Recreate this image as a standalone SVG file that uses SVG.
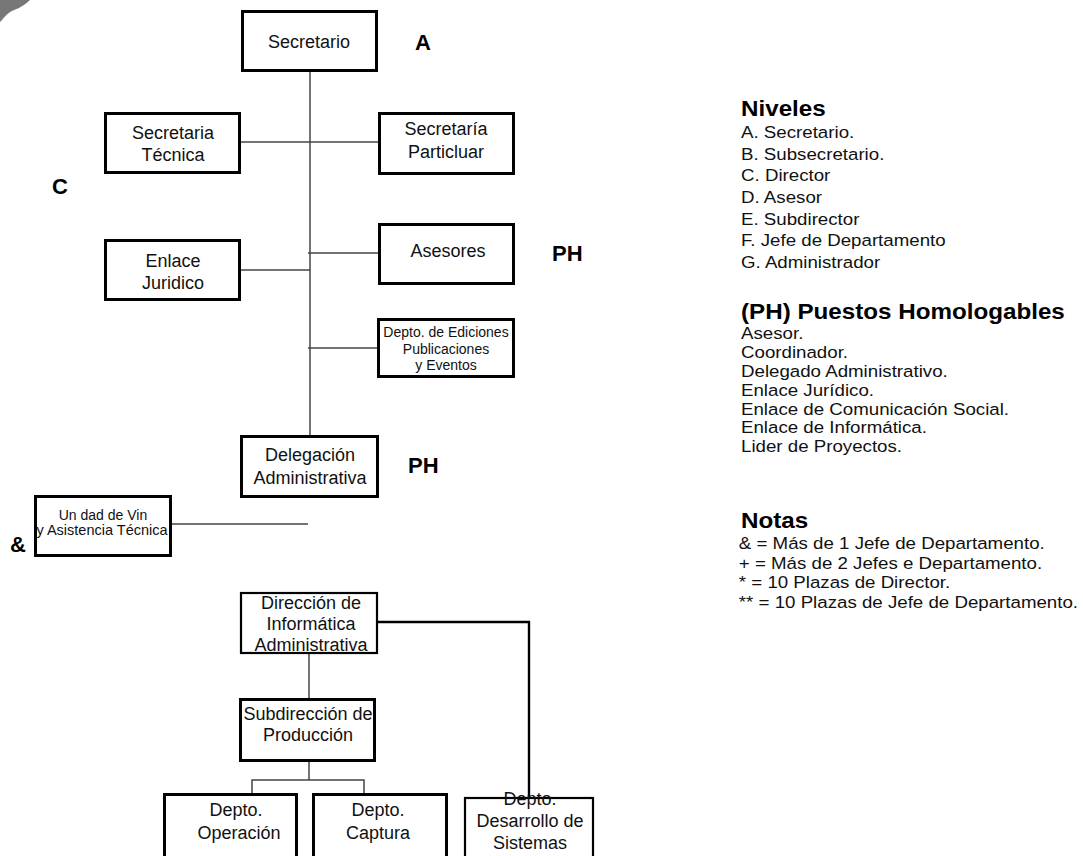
<svg xmlns="http://www.w3.org/2000/svg" width="1083" height="856" viewBox="0 0 1083 856">
<style>
.box{fill:#fff;stroke:#000;stroke-width:3}
.box2{fill:#fff;stroke:#000;stroke-width:2.2}
.t{font-family:"Liberation Sans",Arial,sans-serif;font-size:18px;fill:#111;text-anchor:middle}
.ts{font-family:"Liberation Sans",Arial,sans-serif;font-size:14px;fill:#111;text-anchor:middle}
.lvl{font-family:"Liberation Sans",Arial,sans-serif;font-size:22px;font-weight:bold;fill:#000}
.h{font-family:"Liberation Sans",Arial,sans-serif;font-size:22px;font-weight:bold;fill:#000}
.li{font-family:"Liberation Sans",Arial,sans-serif;font-size:17px;fill:#111}
.thin{fill:none;stroke:#444;stroke-width:1.5}
.thick{fill:none;stroke:#000;stroke-width:2.4}
</style>
<rect width="1083" height="856" fill="#fff"/>
<path d="M0,0 L30,0 C26,4 20,8 14,10 C9,12 5,16 2,20 L0,22 Z" fill="#555" opacity="0.8"/>

<g id="connectors">
  <line class="thin" x1="310" y1="72" x2="310" y2="435"/>
  <line class="thin" x1="241" y1="142" x2="378" y2="142"/>
  <line class="thin" x1="241" y1="270" x2="310" y2="270"/>
  <line class="thin" x1="308" y1="253" x2="378" y2="253"/>
  <line class="thin" x1="308" y1="348" x2="377" y2="348"/>
  <line class="thin" x1="172" y1="524" x2="308" y2="524"/>
  <line class="thin" x1="309" y1="654" x2="309" y2="698"/>
  <polyline class="thin" points="309,762 309,780"/>
  <polyline class="thin" points="252,793 252,780 364,780 364,793"/>
  <polyline class="thick" points="378,622 529,622 529,797"/>
</g>

<g id="n-secretario"><rect class="box" x="242.5" y="11.5" width="134" height="59"/><text class="t" x="309" y="48">Secretario</text></g>
<g id="n-sec-tecnica"><rect class="box" x="105.5" y="113.5" width="134" height="59"/><text class="t" x="173" y="139">Secretaria</text><text class="t" x="173" y="161">Técnica</text></g>
<g id="n-sec-particular"><rect class="box" x="379.5" y="113.5" width="134" height="60"/><text class="t" x="446" y="135">Secretaría</text><text class="t" x="446" y="158">Particluar</text></g>
<g id="n-enlace"><rect class="box" x="105.5" y="240.5" width="134" height="59"/><text class="t" x="173" y="267">Enlace</text><text class="t" x="173" y="289">Juridico</text></g>
<g id="n-asesores"><rect class="box" x="379.5" y="224.5" width="134" height="59"/><text class="t" x="448" y="257">Asesores</text></g>
<g id="n-ediciones"><rect class="box" x="378.5" y="319.5" width="135" height="57"/><text class="ts" x="446" y="337">Depto. de Ediciones</text><text class="ts" x="446" y="354">Publicaciones</text><text class="ts" x="446" y="370">y Eventos</text></g>
<g id="n-delegacion"><rect class="box" x="241.5" y="436.5" width="136" height="60"/><text class="t" x="310" y="461">Delegación</text><text class="t" x="310" y="484">Administrativa</text></g>
<g id="n-unidad"><rect class="box" x="35.5" y="496.5" width="135" height="59"/><text class="ts" x="103" y="520">Un dad de Vin</text><text class="ts" x="102" y="535" style="font-size:14.5px">y Asistencia Técnica</text></g>
<g id="n-direccion"><rect class="box2" x="241" y="593" width="136" height="60"/><text class="t" x="311" y="609">Dirección de</text><text class="t" x="311" y="630">Informática</text><text class="t" x="311" y="651">Administrativa</text></g>
<g id="n-subdireccion"><rect class="box" x="240.5" y="699.5" width="134" height="61"/><text class="t" x="308" y="720">Subdirección de</text><text class="t" x="308" y="741">Producción</text></g>
<g id="n-operacion"><rect class="box" x="164.5" y="794.5" width="132" height="80"/><text class="t" x="236" y="816">Depto.</text><text class="t" x="239" y="839">Operación</text></g>
<g id="n-captura"><rect class="box" x="313.5" y="794.5" width="133" height="80"/><text class="t" x="378" y="816">Depto.</text><text class="t" x="378" y="839">Captura</text></g>
<g id="n-desarrollo"><rect class="box2" x="465" y="798" width="128" height="80"/><text class="t" x="530" y="805">Depto.</text><text class="t" x="530" y="827">Desarrollo de</text><text class="t" x="530" y="849">Sistemas</text></g>

<g id="level-labels">
  <text class="lvl" x="415" y="50">A</text>
  <text class="lvl" x="52" y="194">C</text>
  <text class="lvl" x="552" y="261">PH</text>
  <text class="lvl" x="408" y="473">PH</text>
  <text class="lvl" x="10" y="552">&amp;</text>
</g>

<g id="legend" transform="translate(741 0) scale(1.1 1)">
  <text class="h" x="0" y="116">Niveles</text>
  <text class="li" x="0" y="138">A. Secretario.</text>
  <text class="li" x="0" y="160">B. Subsecretario.</text>
  <text class="li" x="0" y="181">C. Director</text>
  <text class="li" x="0" y="203">D. Asesor</text>
  <text class="li" x="0" y="225">E. Subdirector</text>
  <text class="li" x="0" y="246">F. Jefe de Departamento</text>
  <text class="li" x="0" y="268">G. Administrador</text>
  <text class="h" x="0" y="319">(PH) Puestos Homologables</text>
  <text class="li" x="0" y="339">Asesor.</text>
  <text class="li" x="0" y="358">Coordinador.</text>
  <text class="li" x="0" y="377">Delegado Administrativo.</text>
  <text class="li" x="0" y="396">Enlace Jurídico.</text>
  <text class="li" x="0" y="415">Enlace de Comunicación Social.</text>
  <text class="li" x="0" y="433">Enlace de Informática.</text>
  <text class="li" x="0" y="452">Lider de Proyectos.</text>
  <text class="h" x="0" y="528">Notas</text>
  <text class="li" x="-2" y="549">&amp; = Más de 1 Jefe de Departamento.</text>
  <text class="li" x="-2" y="569">+ = Más de 2 Jefes e Departamento.</text>
  <text class="li" x="-2" y="588">* = 10 Plazas de Director.</text>
  <text class="li" x="-2" y="608">** = 10 Plazas de Jefe de Departamento.</text>
</g>
</svg>
